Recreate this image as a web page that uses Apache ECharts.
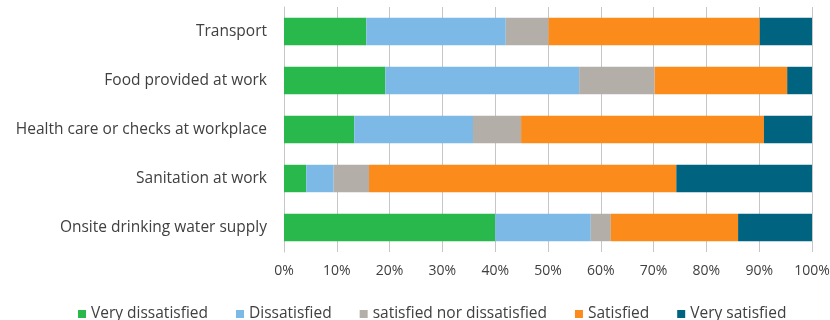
<!DOCTYPE html>
<html>
<head>
<meta charset="utf-8">
<script src="https://cdn.jsdelivr.net/npm/echarts@6/dist/echarts.min.js"></script>
<style>
  html, body { margin: 0; padding: 0; background: #ffffff; }
  #chart { width: 830px; height: 320px; }
</style>
</head>
<body>
<div id="chart"></div>
<script>
// Workplace facilities, share of respondents by satisfaction level (%)
const categories = [
  'Transport',
  'Food provided at work',
  'Health care or checks at workplace',
  'Sanitation at work',
  'Onsite drinking water supply'
];
const veryDissatisfied = [15.6, 19.2, 13.3, 4.2, 40.0];
const dissatisfied     = [26.4, 36.7, 22.5, 5.2, 18.1];
const neutral          = [8.1, 14.3, 9.1, 6.7, 3.8];
const satisfied        = [40.0, 25.1, 46.0, 58.2, 24.1];
const verySatisfied    = [9.9, 4.7, 9.1, 25.7, 14.0];
const seriesNames = ['Very dissatisfied', 'Dissatisfied', 'satisfied nor dissatisfied', 'Satisfied', 'Very satisfied'];
const seriesColors = ['#29b84b', '#7cb9e6', '#b4aea8', '#fb8c1c', '#00637f'];
const xTicks = [0, 10, 20, 30, 40, 50, 60, 70, 80, 90, 100];

const values = [veryDissatisfied, dissatisfied, neutral, satisfied, verySatisfied];
const font = '"Open Sans", "Liberation Sans", sans-serif';

const chart = echarts.init(document.getElementById('chart'));
chart.setOption({
  backgroundColor: '#ffffff',
  animation: false,
  textStyle: { fontFamily: font },
  grid: { left: 284, right: 18, top: 7, height: 245, containLabel: false, outerBoundsMode: 'none' },
  legend: {
    top: 301,
    left: 73,
    itemWidth: 8,
    itemHeight: 8,
    itemGap: 28,
    icon: 'rect',
    textStyle: { fontSize: 15.5, color: '#404040', fontFamily: font },
    data: seriesNames
  },
  xAxis: {
    type: 'value',
    min: xTicks[0],
    max: xTicks[xTicks.length - 1],
    interval: 10,
    axisLine: { show: false },
    axisTick: { show: false },
    splitLine: { show: true, lineStyle: { color: '#c6c6c6', width: 1 } },
    axisLabel: {
      formatter: '{value}%',
      fontSize: 14,
      color: '#404040',
      margin: 12,
      fontFamily: font
    }
  },
  yAxis: {
    type: 'category',
    inverse: true,
    data: categories,
    axisLine: { show: true, lineStyle: { color: '#c6c6c6' } },
    axisTick: { show: false },
    axisLabel: { fontSize: 15.5, color: '#404040', margin: 17, fontFamily: font }
  },
  series: seriesNames.map((name, i) => ({
    name: name,
    type: 'bar',
    stack: 'total',
    barWidth: '56%',
    itemStyle: { color: seriesColors[i] },
    data: values[i]
  }))
});
</script>
</body>
</html>
